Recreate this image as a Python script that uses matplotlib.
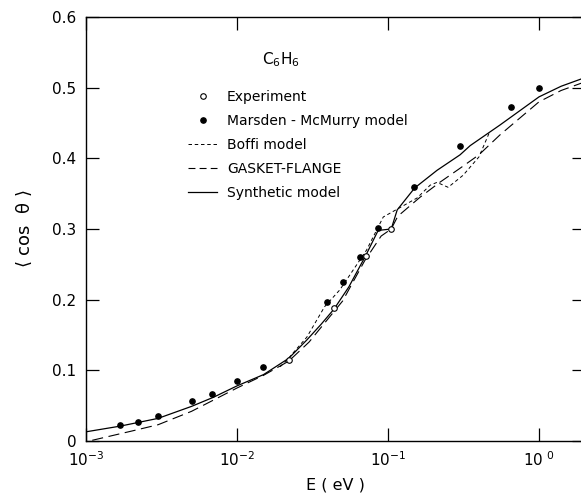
import numpy as np
import matplotlib
matplotlib.use("Agg")
import matplotlib.pyplot as plt
from matplotlib.lines import Line2D

plt.rcParams['font.family'] = ['DejaVu Sans']
plt.rcParams['mathtext.default'] = 'regular'
plt.rcParams['lines.scale_dashes'] = False

# experiment (open circles)
exp_E = [0.0221, 0.0439, 0.0714, 0.105]
exp_cos = [0.115, 0.188, 0.262, 0.300]

# Marsden-McMurry model (filled dots)
mm_E = [1.68e-3, 2.21e-3, 3.0e-3, 5.0e-3, 6.8e-3, 0.0100, 0.0149, 0.0394,
        0.0504, 0.0653, 0.086, 0.149, 0.300, 0.653, 1.0]
mm_cos = [0.023, 0.027, 0.035, 0.056, 0.066, 0.085, 0.105, 0.197,
          0.225, 0.260, 0.301, 0.359, 0.417, 0.472, 0.500]

# synthetic model (solid)
syn_E = [1e-3, 1.68e-3, 3e-3, 5e-3, 7e-3, 1e-2, 1.5e-2, 2.2e-2, 2.9e-2,
         3.6e-2, 4.4e-2, 5.5e-2, 7.1e-2, 8.6e-2, 0.105, 0.115, 0.15, 0.211,
         0.30, 0.35, 0.55, 1.0, 1.4, 2.0]
syn_cos = [0.013, 0.021, 0.032, 0.049, 0.062, 0.078, 0.094, 0.117, 0.143,
           0.165, 0.187, 0.218, 0.262, 0.298, 0.300, 0.327, 0.358, 0.383,
           0.405, 0.418, 0.447, 0.487, 0.502, 0.514]

# GASKET-FLANGE (long dash)
gf_E = [1.1e-3, 2e-3, 3e-3, 5e-3, 1e-2, 1.5e-2, 2.2e-2, 3e-2, 5e-2, 7e-2,
        9e-2, 0.105, 0.116, 0.163, 0.22, 0.30, 0.40, 0.55, 1.0, 1.4, 2.0]
gf_cos = [0.001, 0.014, 0.023, 0.042, 0.075, 0.093, 0.113, 0.14, 0.198,
          0.255, 0.29, 0.30, 0.318, 0.345, 0.366, 0.386, 0.405, 0.433,
          0.48, 0.496, 0.508]

# Boffi model (short dash)
bf_E = [0.0193, 0.0215, 0.029, 0.038, 0.048, 0.072, 0.093, 0.156, 0.19,
        0.211, 0.25, 0.314, 0.40, 0.47]
bf_cos = [0.105, 0.115, 0.147, 0.19, 0.214, 0.27, 0.317, 0.344, 0.362,
          0.366, 0.359, 0.376, 0.402, 0.437]

xticks = [1e-3, 1e-2, 1e-1, 1e0]
xticklabels = ['$10^{-3}$', '$10^{-2}$', '$10^{-1}$', '$10^{\\ 0}$']
yticks = [0, 0.1, 0.2, 0.3, 0.4, 0.5, 0.6]
yticklabels = ['0', '0.1', '0.2', '0.3', '0.4', '0.5', '0.6']

fig = plt.figure(figsize=(5.81, 4.97), dpi=100)
ax = fig.add_axes([86/581, 1-441/497, (584.5-86)/581, (441-17)/497])

ax.plot(syn_E, syn_cos, color='black', lw=0.9)
ax.plot(gf_E, gf_cos, color='black', lw=0.8, dashes=(8, 4))
ax.plot(bf_E, bf_cos, color='black', lw=0.7, dashes=(2.5, 2))
ax.plot(mm_E, mm_cos, 'o', color='black', ms=3.8)
ax.plot(exp_E, exp_cos, 'o', mfc='white', mec='black', mew=0.8, ms=4)

ax.set_xscale('log')
ax.set_xlim(1e-3, 2.0)
ax.set_ylim(0, 0.6)
ax.set_xticks(xticks)
ax.set_xticklabels(xticklabels)
ax.set_yticks(yticks)
ax.set_yticklabels(yticklabels)
ax.minorticks_off()
ax.tick_params(direction='in', length=9.5, width=0.9, labelsize=11,
               top=True, right=True, pad=7)
for s in ax.spines.values():
    s.set_linewidth(1.0)

ax.set_xlabel('E ( eV )', fontsize=11.5, labelpad=6)
ax.set_ylabel(r'$\langle$ cos  $\theta$ $\rangle$', fontsize=13)
ax.yaxis.set_label_coords(-0.105, 0.5)

fig.text(281/581, 1-60/497, 'C$_6$H$_6$', fontsize=11, ha='center', va='center')

handles = [
    Line2D([], [], ls='none', marker='o', mfc='white', mec='black', mew=0.8, ms=4),
    Line2D([], [], ls='none', marker='o', color='black', ms=3.8),
    Line2D([], [], color='black', lw=0.7, dashes=(2.5, 2)),
    Line2D([], [], color='black', lw=0.8, dashes=(5, 3)),
    Line2D([], [], color='black', lw=0.9),
]
labels = ['Experiment', 'Marsden - McMurry model', 'Boffi model',
          'GASKET-FLANGE', 'Synthetic model']
ax.legend(handles, labels, loc='upper left', bbox_to_anchor=(188/581, 1-90/497),
          bbox_transform=fig.transFigure, frameon=False, fontsize=10,
          handlelength=2.1, handletextpad=0.7, labelspacing=0.72,
          borderpad=0, borderaxespad=0)

fig.savefig('out.png', dpi=100)
